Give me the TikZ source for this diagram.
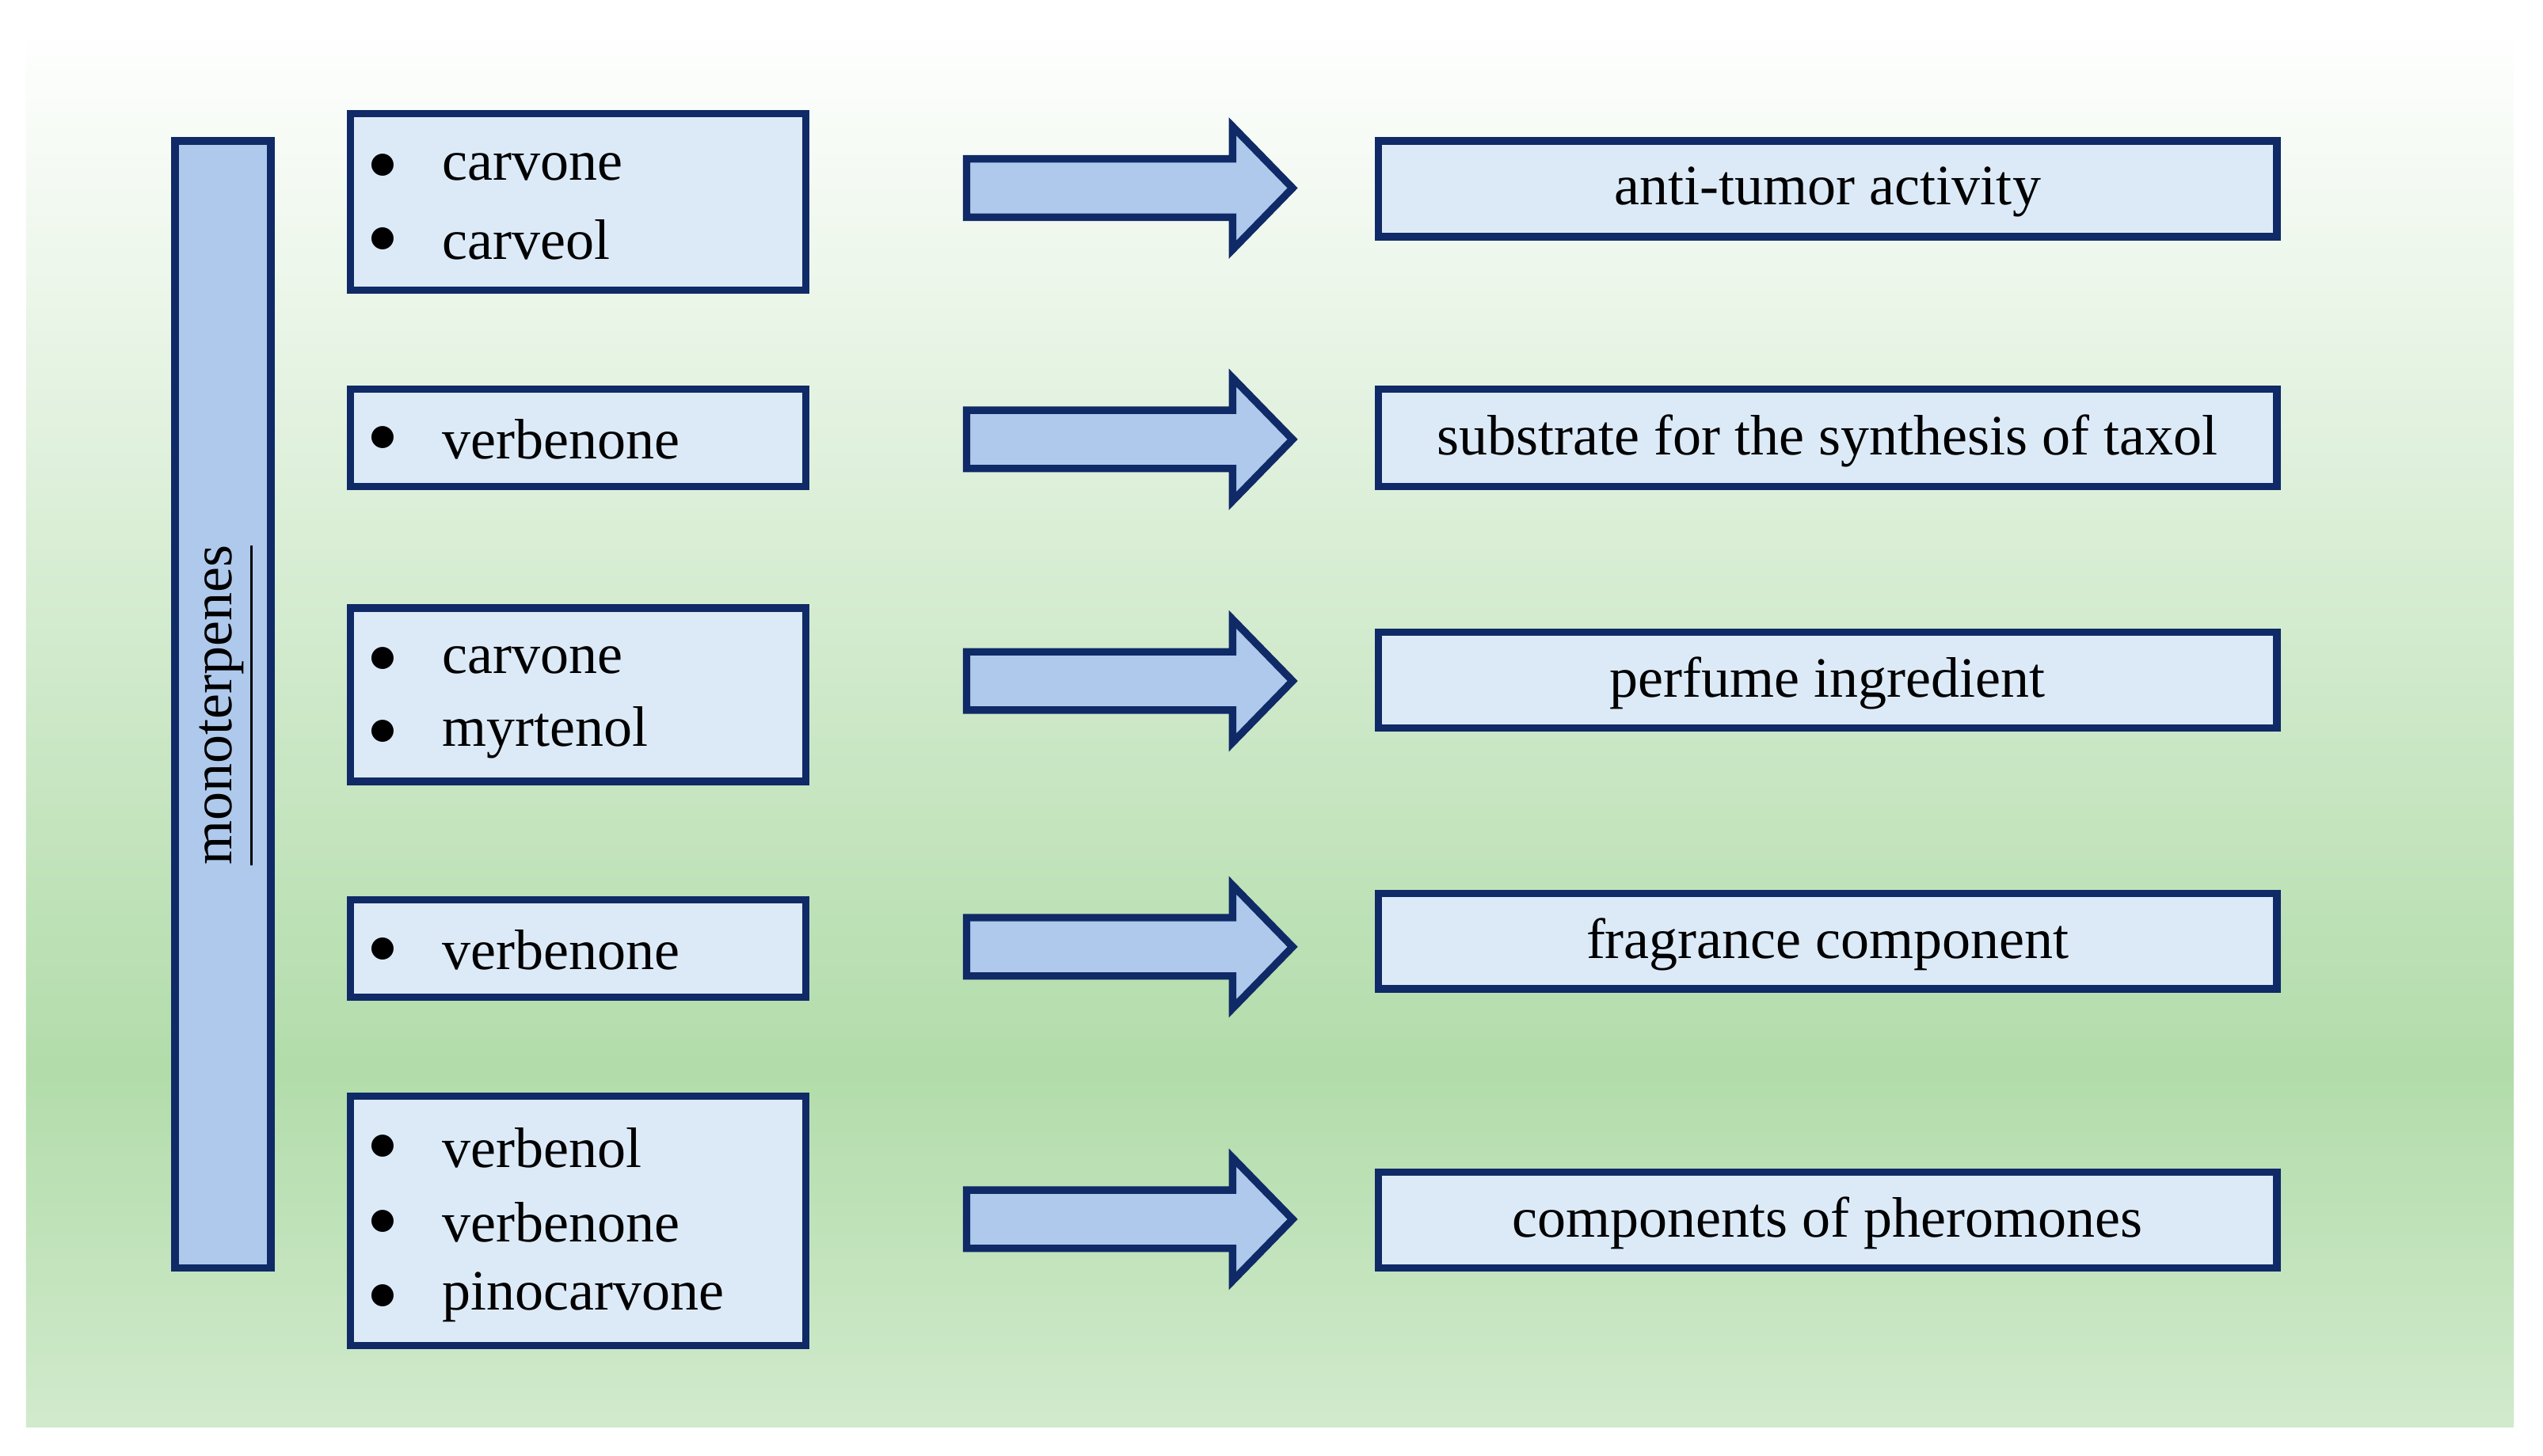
\documentclass[tikz,border=0pt]{standalone}
\usepackage{fontspec}
\setmainfont{Liberation Serif}
\usetikzlibrary{shapes.arrows}
\definecolor{navy}{HTML}{0F2A66}
\definecolor{boxfill}{HTML}{DCEAF8}
\definecolor{barfill}{HTML}{AFC9EC}
\definecolor{bggreen}{HTML}{B2DCAA}
\begin{document}
\begin{tikzpicture}[x=0.01cm,y=-0.01cm,
  box/.style={draw=navy,line width=1.3pt,fill=boxfill},
  arr/.style={draw=navy,line width=1.3pt,fill=barfill},
  txt/.style={font=\fontsize{10pt}{12pt}\selectfont,inner sep=0pt},
  lst/.style={txt,anchor=west,align=left}]
\useasboundingbox (0,0) rectangle (1568,898);
\fill[white] (0,0) rectangle (1568,898);
\shade[top color=white,bottom color=bggreen] (16,15) rectangle (1550,660);
\shade[top color=bggreen,bottom color=bggreen!60!white] (16,659) rectangle (1550,880);
% vertical bar
\draw[box,fill=barfill] (108,87) rectangle (167,782);
\node[txt,rotate=90] (mono) at (140,435) {\underline{monoterpenes}};
% left boxes
\foreach \n/\a/\b in {l1/70/179,l2/240/300,l3/375/482,l4/555/615,l5/676/830}
  \draw[box] (216,\a) rectangle (497,\b) coordinate (\n);
\newcommand{\bl}[3]{\node[txt] at (236,#1) {$\bullet$};\node[lst] (#2) at (272,#1) {#3};}
\bl{103}{t1}{carvone}\bl{148}{t2}{carveol}
\bl{271}{t3}{verbenone}
\bl{407}{t4}{carvone}\bl{452}{t5}{myrtenol}
\bl{586}{t6}{verbenone}
\bl{708}{t7}{verbenol}\bl{754}{t8}{verbenone}\bl{800}{t9}{pinocarvone}
% arrows
\foreach \c/\n in {116/a1,271/a2,420/a3,584/a4,752/a5}
  \draw[arr] (596,\c-18) -- (760,\c-18) -- (760,\c-38) -- (797,\c) -- (760,\c+38) -- (760,\c+18) -- (596,\c+18) -- cycle;
% right boxes
\foreach \a/\b/\t/\n in {87/146/{anti-tumor activity}/r1,240/300/{substrate for the synthesis of taxol}/r2,390/449/{perfume ingredient}/r3,551/610/{fragrance component}/r4,723/782/{components of pheromones}/r5}
  {\draw[box] (850,\a) rectangle (1404,\b);
   \node[txt] (\n) at (1127,{(\a+\b)/2+2}) {\t};}
\end{tikzpicture}
\end{document}
